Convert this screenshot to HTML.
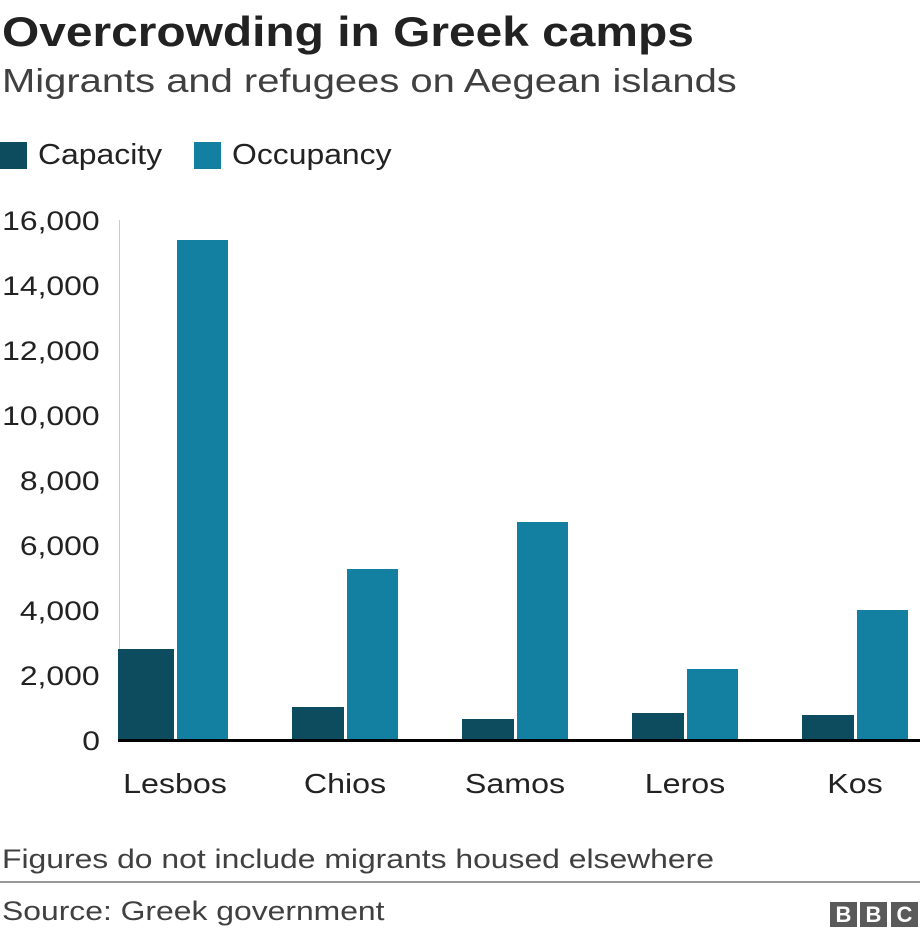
<!DOCTYPE html>
<html><head><meta charset="utf-8"><style>
body{margin:0;width:920px;height:938px;background:#fff;font-family:"Liberation Sans",sans-serif;position:relative;overflow:hidden}
.t{position:absolute;white-space:nowrap;transform-origin:0 50%}
.b{position:absolute}
.c{background:#0d4c5f}.o{background:#1380a1}
.yl{position:absolute;right:820px;font-size:27px;color:#222;text-align:right;transform:scaleX(1.18);transform-origin:100% 50%}
.xl{position:absolute;font-size:28px;color:#222;width:120px;text-align:center;top:768px;transform:scaleX(1.15)}
.bb{position:absolute;top:902px;width:27px;height:25px;background:#5a5a5a;color:#fff;font-weight:bold;font-size:22px;text-align:center;line-height:26px}
</style></head><body>
<div class="t" style="left:2px;top:8px;font-size:42px;font-weight:bold;color:#222;transform:scaleX(1.14)">Overcrowding in Greek camps</div>
<div class="t" style="left:2px;top:62px;font-size:33px;color:#404040;transform:scaleX(1.21)">Migrants and refugees on Aegean islands</div>
<div class="b c" style="left:0;top:142px;width:27px;height:27px"></div>
<div class="t" style="left:38px;top:139px;font-size:29px;color:#222;transform:scaleX(1.1)">Capacity</div>
<div class="b o" style="left:194px;top:142px;width:27px;height:27px"></div>
<div class="t" style="left:232px;top:139px;font-size:29px;color:#222;transform:scaleX(1.1)">Occupancy</div>
<div class="yl" style="top:206px">16,000</div>
<div class="yl" style="top:271px">14,000</div>
<div class="yl" style="top:336px">12,000</div>
<div class="yl" style="top:401px">10,000</div>
<div class="yl" style="top:466px">8,000</div>
<div class="yl" style="top:531px">6,000</div>
<div class="yl" style="top:596px">4,000</div>
<div class="yl" style="top:661px">2,000</div>
<div class="yl" style="top:726px">0</div>
<div class="b" style="left:119px;top:220px;width:1px;height:520px;background:#ccc"></div>
<div class="b c" style="left:118px;top:649px;width:56px;height:91px"></div>
<div class="b o" style="left:177px;top:240px;width:51px;height:500px"></div>
<div class="b c" style="left:292px;top:707px;width:52px;height:33px"></div>
<div class="b o" style="left:347px;top:569px;width:51px;height:171px"></div>
<div class="b c" style="left:462px;top:719px;width:52px;height:21px"></div>
<div class="b o" style="left:517px;top:522px;width:51px;height:218px"></div>
<div class="b c" style="left:632px;top:713px;width:52px;height:27px"></div>
<div class="b o" style="left:687px;top:669px;width:51px;height:71px"></div>
<div class="b c" style="left:802px;top:715px;width:52px;height:25px"></div>
<div class="b o" style="left:857px;top:610px;width:51px;height:130px"></div>
<div class="b" style="left:118px;top:739px;width:802px;height:3px;background:#000"></div>
<div class="xl" style="left:115px">Lesbos</div>
<div class="xl" style="left:285px">Chios</div>
<div class="xl" style="left:455px">Samos</div>
<div class="xl" style="left:625px">Leros</div>
<div class="xl" style="left:795px">Kos</div>
<div class="t" style="left:2px;top:844px;font-size:27px;color:#404040;transform:scaleX(1.18)">Figures do not include migrants housed elsewhere</div>
<div class="b" style="left:0;top:881px;width:920px;height:2px;background:#999"></div>
<div class="t" style="left:2px;top:896px;font-size:27px;color:#404040;transform:scaleX(1.18)">Source: Greek government</div>
<div class="bb" style="left:830px">B</div>
<div class="bb" style="left:860px">B</div>
<div class="bb" style="left:891px">C</div>
</body></html>
